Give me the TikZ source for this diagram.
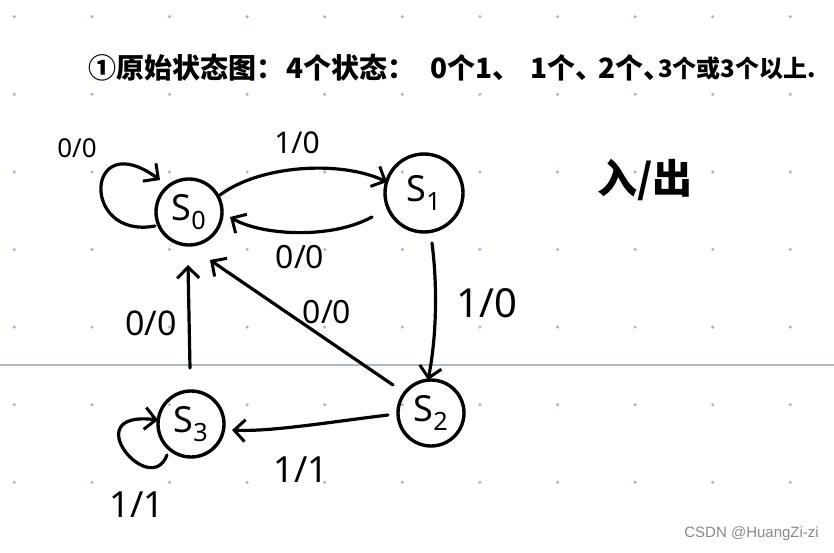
\documentclass[tikz,border=0pt]{standalone}
\usepackage{fontspec}
\setmainfont{Noto Sans}
\newfontfamily\cjk{Noto Sans CJK SC}
\usetikzlibrary{arrows.meta,calc}
\definecolor{dotc}{HTML}{A9B4D2}
\definecolor{linec}{HTML}{AEB8CF}
\definecolor{wmark}{HTML}{8A8A8A}
\begin{document}
\begin{tikzpicture}[x=1pt,y=-1pt,
  ink/.style={line width=3.2pt, line cap=round, line join=round},
  arr/.style={ink, -{Straight Barb[length=11pt,width=22pt,line width=3pt]}},
  state/.style={circle, draw, line width=3.4pt, inner sep=0pt, font=\fontsize{36}{36}\selectfont},
  lbl/.style={inner sep=0pt},
  ttl/.style={inner sep=0pt, anchor=west, font=\cjk\bfseries\fontsize{28}{28}\selectfont},
]
\useasboundingbox (0,0) rectangle (834,553);
\fill[white] (0,0) rectangle (834,553);
\foreach \i in {0,...,10} \foreach \j in {0,...,6}
  \fill[dotc] (14.3+77.6*\i, 16.7+77.6*\j) circle (1.7pt);
\draw[linec, line width=1.6pt] (0,365) -- (834,365);

% title
\node[ttl] (t1) at (88,68) {①原始状态图：};
\node[ttl] (t2) at (286,68) {4个状态：};
\node[ttl] (t3) at (430,68) {0个1、};
\node[ttl] (t4) at (530,68) {1个、};
\node[ttl] (t5) at (598,68) {2个、};
\node[ttl, font=\cjk\bfseries\fontsize{24}{24}\selectfont] (t6) at (658,68) {3个或3个以上.};
\node[inner sep=0pt, font=\cjk\bfseries\fontsize{40}{40}\selectfont] (io) at (645,180) {入/出};

% states
\node[state, minimum size=66pt] (s0) at (189,212) {S\textsubscript{0}};
\node[state, minimum size=78pt] (s1) at (424,193) {S\textsubscript{1}};
\node[state, minimum size=66pt] (s2) at (431,413) {S\textsubscript{2}};
\node[state, minimum size=66pt] (s3) at (191,424) {S\textsubscript{3}};

% edges
\draw[arr] ($(s0)+(-34,14)$) .. controls (80,240) and (85,125) .. ($(s0)+(-29,-32)$);
\draw[arr] ($(s0)+(31,-17)$) .. controls (260,165) and (340,160) .. ($(s1)+(-37,-11)$);
\draw[arr] ($(s1)+(-52,24)$) .. controls (330,240) and (260,235) .. ($(s0)+(41,5)$);
\draw[arr] ($(s1)+(8,50)$) .. controls (438,290) and (436,340) .. ($(s2)+(-3,-33)$);
\draw[arr] ($(s2)+(-38,-28)$) -- ($(s0)+(21,48)$);
\draw[arr] ($(s3)+(-1,-56)$) -- ($(s0)+(-1,53)$);
\draw[arr] ($(s2)+(-43,2)$) .. controls (330,422) and (270,432) .. ($(s3)+(41,6)$);
\draw[arr] ($(s3)+(-24,31)$) .. controls (150,500) and (75,410) .. ($(s3)+(-33,-4)$);

% labels
\node[lbl, font=\fontsize{26}{26}\selectfont] (l1) at (77,148) {0/0};
\node[lbl, font=\fontsize{30}{30}\selectfont] (l2) at (297,143) {1/0};
\node[lbl, font=\fontsize{32}{32}\selectfont] (l3) at (300,257) {0/0};
\node[lbl, font=\fontsize{40}{40}\selectfont] (l4) at (487,303) {1/0};
\node[lbl, font=\fontsize{32}{32}\selectfont] (l5) at (327,312) {0/0};
\node[lbl, font=\fontsize{34}{34}\selectfont] (l6) at (151,323) {0/0};
\node[lbl, font=\fontsize{36}{36}\selectfont] (l7) at (301,470) {1/1};
\node[lbl, font=\fontsize{36}{36}\selectfont] (l8) at (137,505) {1/1};

% watermark
\node[inner sep=0pt, anchor=east, text=wmark, font=\fontspec{Liberation Sans}\fontsize{15}{15}\selectfont] (wm) at (819,534) {CSDN @HuangZi-zi};
\end{tikzpicture}
\end{document}
